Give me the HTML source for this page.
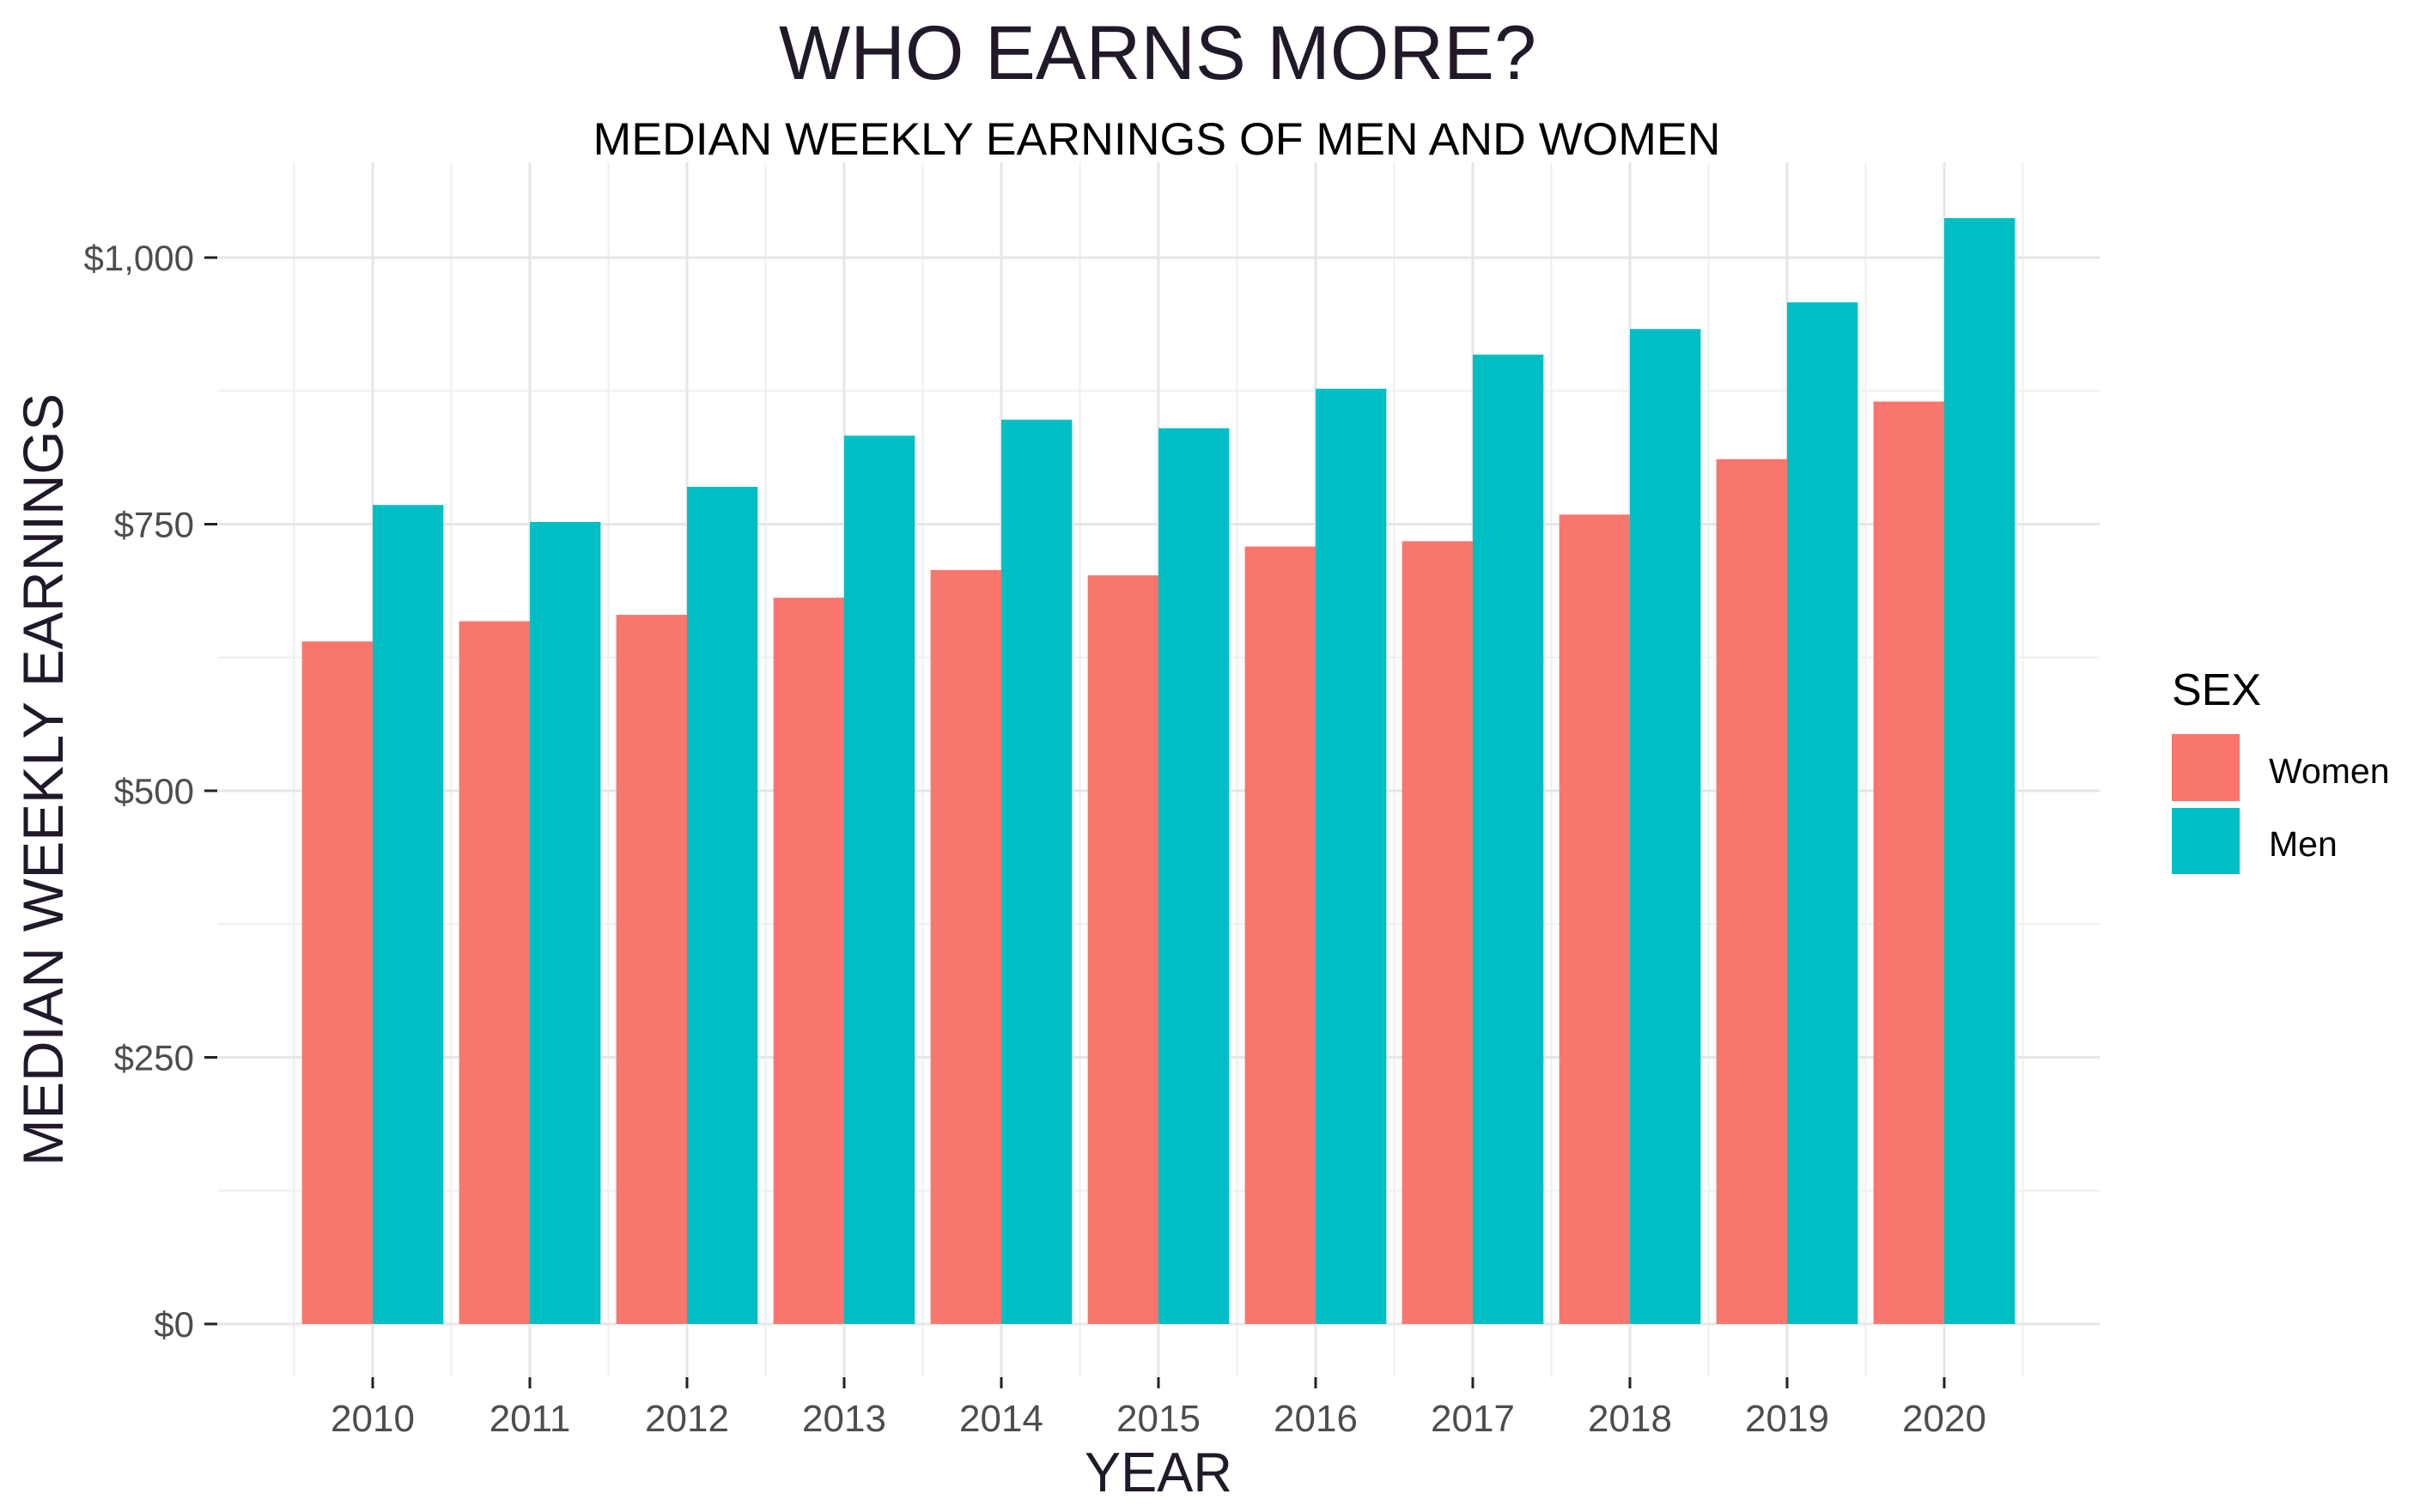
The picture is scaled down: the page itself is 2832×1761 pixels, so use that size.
<!DOCTYPE html>
<html><head><meta charset="utf-8"><style>
html,body{margin:0;padding:0;background:#fff;}
svg{display:block;font-family:"Liberation Sans",Arial,sans-serif;}
</style></head><body>
<svg id="chart" width="2832" height="1761" viewBox="0 0 2832 1761" xmlns="http://www.w3.org/2000/svg">
<rect width="2832" height="1761" fill="#fff"/>
<g id="grid"></g>
<g id="bars"></g>
<g id="axes"></g>
<text x="1348" y="92" text-anchor="middle" font-size="89" fill="#21192a" textLength="882" lengthAdjust="spacingAndGlyphs">WHO EARNS MORE?</text>
<text x="1347" y="180" text-anchor="middle" font-size="53" fill="#000" textLength="1313" lengthAdjust="spacingAndGlyphs">MEDIAN WEEKLY EARNINGS OF MEN AND WOMEN</text>
<text x="1349" y="1737" text-anchor="middle" font-size="65" fill="#21192a" textLength="172" lengthAdjust="spacingAndGlyphs">YEAR</text>
<text transform="translate(73,908) rotate(-90)" text-anchor="middle" font-size="66" fill="#21192a" textLength="900" lengthAdjust="spacingAndGlyphs">MEDIAN WEEKLY EARNINGS</text>
<g>
<text x="2529" y="821" font-size="52" fill="#000">SEX</text>
<rect x="2529" y="855" width="79" height="78" fill="#F8766D"/>
<rect x="2529" y="941" width="79" height="77" fill="#00BFC4"/>
<text x="2642" y="912" font-size="41" fill="#000">Women</text>
<text x="2642" y="997" font-size="41" fill="#000">Men</text>
</g>
</svg>
<script>
const years = [2010,2011,2012,2013,2014,2015,2016,2017,2018,2019,2020];
const women = [640,659,665,681,707,702,729,734,759,811,865];
const men = [768,752,785,833,848,840,877,909,933,958,1037];
const yTicks = [0,250,500,750,1000];
const yTickLabels = ["$0","$250","$500","$750","$1,000"];

const NS = "http://www.w3.org/2000/svg";
const X0 = 434, DX = 183;
const Y0 = 1542, KY = 1.242;
const PL = 253, PR = 2445, PT = 189, PB = 1604;
function xs(yr){ return X0 + DX*(yr-2010); }
function ys(v){ return Y0 - KY*v; }
function mk(tag, attrs, parent){ const e=document.createElementNS(NS,tag); for(const k in attrs) e.setAttribute(k,attrs[k]); parent.appendChild(e); return e; }

const grid = document.getElementById('grid');
const bars = document.getElementById('bars');
const axes = document.getElementById('axes');

for(let i=0;i<yTicks.length-1;i++){
  const v=(yTicks[i]+yTicks[i+1])/2;
  const l=mk('line',{x1:PL,x2:PR,y1:ys(v),y2:ys(v),stroke:'#efefef','stroke-width':2},grid);
  
  
}
for(let i=0;i<=years.length;i++){
  const x=xs(years[0]-0.5+i);
  const l=mk('line',{x1:x,x2:x,y1:PT,y2:PB,stroke:'#efefef','stroke-width':2},grid);
  
  
}
yTicks.forEach((v,i)=>{
  const l=mk('line',{x1:PL,x2:PR,y1:ys(v),y2:ys(v),stroke:'#e6e6e6','stroke-width':3},grid);
  
  
  const t=mk('line',{x1:238,x2:253,y1:ys(v),y2:ys(v),stroke:'#222','stroke-width':3},axes);
  
  
  const tx=mk('text',{x:226,y:ys(v)+15,'text-anchor':'end','font-size':42,fill:'#4d4d4d'},axes);
  tx.textContent=yTickLabels[i];
  
  
});
years.forEach(yr=>{
  const x=xs(yr);
  const l=mk('line',{x1:x,x2:x,y1:PT,y2:PB,stroke:'#e6e6e6','stroke-width':3},grid);
  
  
  const t=mk('line',{x1:x,x2:x,y1:PB,y2:PB+13,stroke:'#222','stroke-width':3},axes);
  
  
  const tx=mk('text',{x:x,y:1667,'text-anchor':'middle','font-size':44,fill:'#4d4d4d'},axes);
  tx.textContent=String(yr);
  
  
});
const BW = DX*0.45;
years.forEach((yr,i)=>{
  const x=xs(yr);
  const w=mk('rect',{x:x-BW,y:ys(women[i]),width:BW,height:ys(0)-ys(women[i]),fill:'#F8766D'},bars);
  
  
  const m=mk('rect',{x:x,y:ys(men[i]),width:BW,height:ys(0)-ys(men[i]),fill:'#00BFC4'},bars);
  
  
});
</script>
</body></html>
